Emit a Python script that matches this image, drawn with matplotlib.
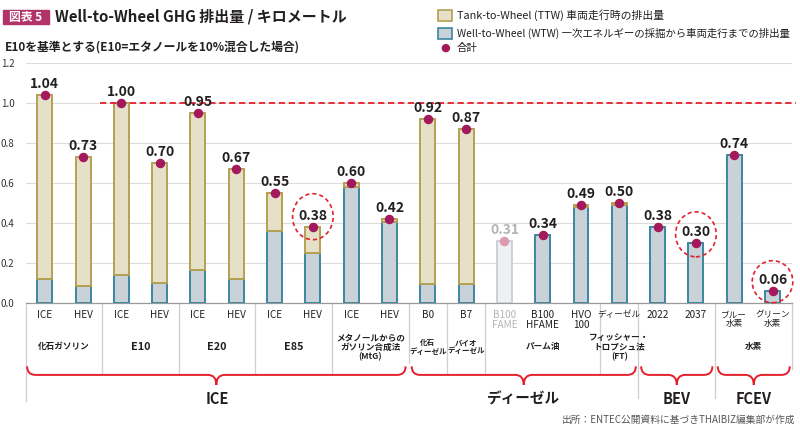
import numpy as np
import matplotlib.pyplot as plt
from matplotlib.patches import Ellipse, Rectangle, PathPatch
from matplotlib.path import Path

plt.rcParams['font.family'] = ['Noto Sans CJK JP', 'DejaVu Sans']

# -----------------------------
# Data
# -----------------------------
bar_labels = ["ICE", "HEV", "ICE", "HEV", "ICE", "HEV", "ICE", "HEV", "ICE", "HEV",
              "B0", "B7", "B100\nFAME", "B100\nHFAME", "HVO\n100", "ディーゼル",
              "2022", "2037", "ブルー\n水素", "グリーン\n水素"]
totals = [1.04, 0.73, 1.00, 0.70, 0.95, 0.67, 0.55, 0.38, 0.60, 0.42,
          0.92, 0.87, 0.31, 0.34, 0.49, 0.50, 0.38, 0.30, 0.74, 0.06]
wtw = [0.12, 0.085, 0.14, 0.10, 0.165, 0.12, 0.36, 0.25, 0.58, 0.405,
       0.095, 0.095, 0.31, 0.34, 0.48, 0.49, 0.38, 0.30, 0.74, 0.06]
ttw = [t - w for t, w in zip(totals, wtw)]

# fuel groups: (label, first bar, last bar)
fuel_groups = [("化石ガソリン", 0, 1), ("E10", 2, 3), ("E20", 4, 5), ("E85", 6, 7),
               ("メタノールからの\nガソリン合成法\n(MtG)", 8, 9),
               ("化石\nディーゼル", 10, 10), ("バイオ\nディーゼル", 11, 11),
               ("パーム油", 12, 14), ("フィッシャー・\nトロプシュ法\n(FT)", 15, 15),
               ("水素", 18, 19)]
categories = [("ICE", 0, 9), ("ディーゼル", 10, 15), ("BEV", 16, 17), ("FCEV", 18, 19)]

faded = 12            # B100 FAME is greyed out

# -----------------------------
# Colours
# -----------------------------
ttw_fill, ttw_edge = "#e7e0c9", "#b3a152"
wtw_fill, wtw_edge = "#c9d2d9", "#3d869f"
dot_col = "#a3195b"
red = "#e5202b"
txt = "#231f20"
sep_col = "#cfcfcf"


def is_ascii(s):
    return all(ord(c) < 128 for c in s)


fig = plt.figure(figsize=(8, 4.32), dpi=100)
ax = fig.add_axes([0.032, 0.2979, 0.9576, 0.5556])

x = np.arange(len(totals))
w = 0.39
for i in x:
    if i == faded:
        ax.bar(i, wtw[i], w, color="#eef0f2", edgecolor="#c4ccd2", lw=1.2, zorder=3)
        continue
    ax.bar(i, wtw[i], w, color=wtw_fill, edgecolor=wtw_edge, lw=1.4, zorder=3)
    if ttw[i] > 0.001:
        ax.bar(i, ttw[i], w, bottom=wtw[i], color=ttw_fill, edgecolor=ttw_edge,
               lw=1.4, zorder=3)

# totals: dots and labels
for i in x:
    c = "#dc9bb0" if i == faded else dot_col
    tc = "#b4b4b4" if i == faded else txt
    ax.scatter(i, totals[i], s=34, color=c, zorder=5, clip_on=False)
    ax.annotate(f"{totals[i]:.2f}", (i, totals[i]), xytext=(0, 3),
                textcoords="offset points", ha="center", va="bottom",
                fontsize=10, fontweight="bold", color=tc, zorder=6)

# E10 reference line
ax.plot([1.45, 19.62], [1.0, 1.0], color=red, lw=1.3, ls=(0, (3.5, 2)),
        zorder=4, clip_on=False)

# red dashed rings
for i, cy, h in [(7, 0.433, 0.23), (17, 0.345, 0.225), (19, 0.108, 0.21)]:
    ax.add_patch(Ellipse((i, cy), 1.06, h, fill=False, ec=red, lw=1.2,
                         ls=(0, (2.5, 1.8)), zorder=6, clip_on=False))

# axes styling
ax.set_xlim(-0.5, 19.5)
ax.set_ylim(0, 1.2)
ax.set_yticks(np.arange(0, 1.21, 0.2))
ax.set_yticklabels([f"{v:.1f}" for v in np.arange(0, 1.21, 0.2)])
ax.tick_params(axis="y", length=0, pad=8, labelsize=7, labelcolor="#333333")
ax.set_xticks([])
for s in ["top", "right", "left"]:
    ax.spines[s].set_visible(False)
ax.spines["bottom"].set_color("#9a9a9a")
ax.spines["bottom"].set_linewidth(0.9)
ax.yaxis.grid(True, color="#dcdcdc", lw=0.8, zorder=0)
ax.set_axisbelow(True)

# -----------------------------
# Labels below the axis
# -----------------------------
for i in x:
    lab = bar_labels[i]
    ax.text(i, -0.035, lab, ha="center", va="top",
            fontsize=7.2 if is_ascii(lab) else 6.2,
            linespacing=1.0, color="#b4b4b4" if i == faded else txt, clip_on=False)

for name, a, b in fuel_groups:
    if is_ascii(name):
        fs = 7.8
    elif a == b and "ディーゼル" in name:
        fs = 5.4   # single-bar columns are narrow
    else:
        fs = 6.2
    ax.text((a + b) / 2, -0.218, name, ha="center", va="center", fontsize=fs,
            fontweight="bold", linespacing=1.05, color=txt, clip_on=False)

# separators: (x position, lower end)
seps = [(-0.5, -0.49), (1.5, -0.35), (3.5, -0.35), (5.5, -0.35), (7.5, -0.35),
        (9.5, -0.3), (10.5, -0.35), (11.5, -0.35), (14.5, -0.35),
        (15.5, -0.474), (17.5, -0.474), (19.5, -0.33)]
for sx, sy in seps:
    ax.plot([sx, sx], [0, sy], color=sep_col, lw=0.9, clip_on=False, zorder=1)


def brace(x0, x1):
    xc = (x0 + x1) / 2
    yt, ym, yb = -0.315, -0.358, -0.408
    d = 0.22
    verts = [(x0, yt), (x0, ym), (x0 + d, ym), (xc - d, ym), (xc, ym), (xc, yb),
             (xc, ym), (xc + d, ym), (x1 - d, ym), (x1, ym), (x1, yt)]
    codes = [Path.MOVETO, Path.CURVE3, Path.CURVE3, Path.LINETO, Path.CURVE3,
             Path.CURVE3, Path.CURVE3, Path.CURVE3, Path.LINETO, Path.CURVE3,
             Path.CURVE3]
    ax.add_patch(PathPatch(Path(verts, codes), fill=False, ec=red, lw=1.4,
                           clip_on=False, zorder=2))


brace_span = {"ICE": (-0.46, 9.42), "ディーゼル": (9.58, 15.43),
              "BEV": (15.57, 17.43), "FCEV": (17.57, 19.45)}
for name, a, b in categories:
    brace(*brace_span[name])
    ax.text((a + b) / 2, -0.478, name, ha="center", va="center", fontsize=10.5,
            fontweight="bold", color=txt, clip_on=False)

# -----------------------------
# Title, subtitle, legend, source
# -----------------------------
fig.patches.append(Rectangle((3 / 800, 1 - 24 / 432), 46 / 800, 14 / 432,
                             transform=fig.transFigure, color="#b1336a"))
fig.text(26 / 800, 1 - 17 / 432, "図表 5", ha="center", va="center",
         fontsize=8.5, fontweight="bold", color="white")
fig.text(55 / 800, 1 - 17 / 432, "Well-to-Wheel GHG 排出量 / キロメートル",
         ha="left", va="center", fontsize=10.8, fontweight="bold", color=txt)
fig.text(5 / 800, 1 - 47 / 432, "E10を基準とする(E10=エタノールを10%混合した場合)",
         ha="left", va="center", fontsize=8.5, fontweight="bold", color=txt)

fig.patches.append(Rectangle((438 / 800, 1 - 21 / 432), 14 / 800, 11 / 432,
                             transform=fig.transFigure, fc=ttw_fill, ec=ttw_edge, lw=1.2))
fig.text(457 / 800, 1 - 15.5 / 432, "Tank-to-Wheel (TTW) 車両走行時の排出量",
         ha="left", va="center", fontsize=7.8, color=txt)
fig.patches.append(Rectangle((438 / 800, 1 - 39 / 432), 14 / 800, 11 / 432,
                             transform=fig.transFigure, fc=wtw_fill, ec=wtw_edge, lw=1.2))
fig.text(457 / 800, 1 - 33.5 / 432,
         "Well-to-Wheel (WTW) 一次エネルギーの採掘から車両走行までの排出量",
         ha="left", va="center", fontsize=7.5, color=txt)
fig.text(445 / 800, 1 - 47.5 / 432, "●", ha="center", va="center",
         fontsize=8, color=dot_col, family="DejaVu Sans")
fig.text(457 / 800, 1 - 47.5 / 432, "合計", ha="left", va="center",
         fontsize=7.5, color=txt)

fig.text(795 / 800, 1 - 420 / 432, "出所：ENTEC公開資料に基づきTHAIBIZ編集部が作成",
         ha="right", va="center", fontsize=7, color="#555555")

plt.savefig("out.png", dpi=100)
